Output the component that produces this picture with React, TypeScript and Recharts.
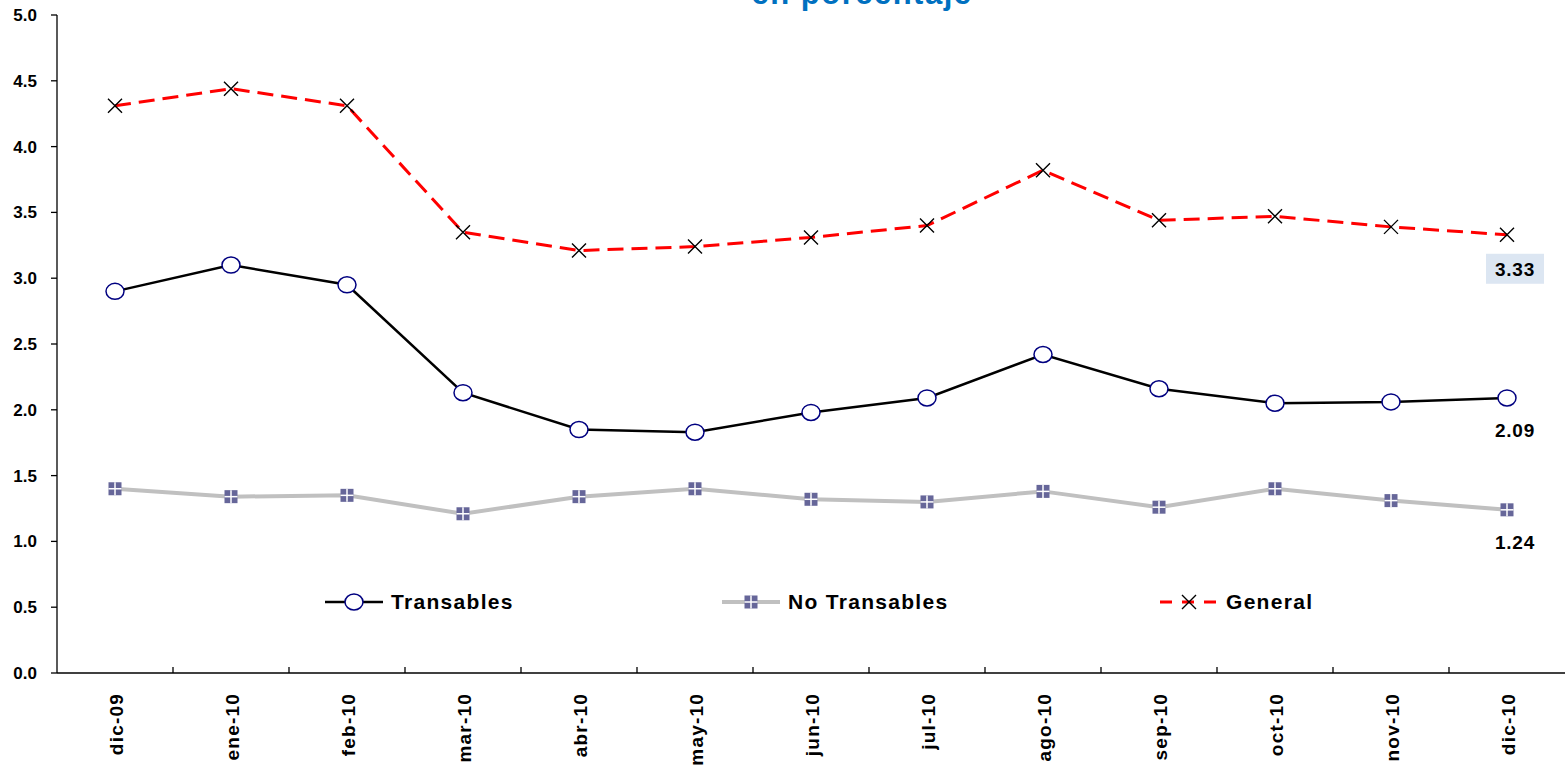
import { LineChart, Line, XAxis, YAxis, Legend, LabelList } from 'recharts';

const months = ['dic-09', 'ene-10', 'feb-10', 'mar-10', 'abr-10', 'may-10', 'jun-10', 'jul-10', 'ago-10', 'sep-10', 'oct-10', 'nov-10', 'dic-10'];
const transables = [2.9, 3.1, 2.95, 2.13, 1.85, 1.83, 1.98, 2.09, 2.42, 2.16, 2.05, 2.06, 2.09];
const noTransables = [1.4, 1.34, 1.35, 1.21, 1.34, 1.4, 1.32, 1.3, 1.38, 1.26, 1.4, 1.31, 1.24];
const general = [4.31, 4.44, 4.31, 3.35, 3.21, 3.24, 3.31, 3.4, 3.82, 3.44, 3.47, 3.39, 3.33];
const yTicks = [0, 0.5, 1, 1.5, 2, 2.5, 3, 3.5, 4, 4.5, 5];

const data = months.map((m, i) => ({
  month: m,
  transables: transables[i],
  noTransables: noTransables[i],
  general: general[i],
}));

const FONT = '"Liberation Sans", Arial, sans-serif';
const last = months.length - 1;

const Ring = ({ cx, cy }: any) => (
  <ellipse cx={cx} cy={cy} rx={9} ry={8} fill="#fff" stroke="#000080" strokeWidth={1.5} />
);

const Block = ({ cx, cy }: any) => (
  <g>
    <rect x={cx - 6.5} y={cy - 6.5} width={13} height={13} fill="#666699" />
    <line x1={cx} x2={cx} y1={cy - 6.5} y2={cy + 6.5} stroke="#fff" strokeWidth={1.5} />
    <line x1={cx - 6.5} x2={cx + 6.5} y1={cy} y2={cy} stroke="#fff" strokeWidth={1.5} />
  </g>
);

const Cross = ({ cx, cy }: any) => (
  <path
    d={`M${cx - 7},${cy - 7}L${cx + 7},${cy + 7}M${cx + 7},${cy - 7}L${cx - 7},${cy + 7}`}
    stroke="#000"
    strokeWidth={1.4}
    fill="none"
  />
);

const MonthTick = (props: any) => {
  const { x, y, payload } = props;
  const half = payload.offset ?? 0;
  return (
    <g>
      {payload.index < last && (
        <line x1={x + half} x2={x + half} y1={y} y2={y - 6} stroke="#000" strokeWidth={1.3} />
      )}
      <text
        transform={`translate(${x + 8},${y + 20}) rotate(-90)`}
        textAnchor="end"
        fontFamily={FONT}
        fontWeight="bold"
        fontSize={19}
        letterSpacing={1.2}
        fill="#000"
      >
        {payload.value}
      </text>
    </g>
  );
};

const legendItems: Record<string, { left: number; stroke: string; width: number; dash?: string; Mark: any }> = {
  Transables: { left: 325, stroke: '#000', width: 2.5, Mark: Ring },
  'No Transables': { left: 722, stroke: '#c0c0c0', width: 4, Mark: Block },
  General: { left: 1160, stroke: '#ff0000', width: 3, dash: '12 10', Mark: Cross },
};

const renderLegend = (props: any) => (
  <div style={{ position: 'relative', height: 25 }}>
    {(props.payload || []).map((entry: any) => {
      const it = legendItems[entry.value];
      if (!it) return null;
      const { Mark } = it;
      return (
        <div
          key={entry.value}
          style={{ position: 'absolute', left: it.left, top: 0, height: 25, display: 'flex', alignItems: 'center' }}
        >
          <svg width={58} height={22}>
            <line x1={0} x2={58} y1={11} y2={11} stroke={it.stroke} strokeWidth={it.width} strokeDasharray={it.dash} />
            <Mark cx={29} cy={11} />
          </svg>
          <span
            style={{ marginLeft: 8, fontFamily: FONT, fontWeight: 'bold', fontSize: 21, letterSpacing: 1.3, color: '#000' }}
          >
            {entry.value}
          </span>
        </div>
      );
    })}
  </div>
);

const EndLabel = ({ dy, box }: { dy: number; box?: boolean }) => (props: any) => {
  const { x, y, value, index } = props;
  if (index !== last) return null;
  return (
    <g>
      {box && <rect x={x - 21} y={y + 19} width={58} height={30} fill="#dce6f2" />}
      <text
        x={x + 8}
        y={y + dy}
        textAnchor="middle"
        dominantBaseline="central"
        fontFamily={FONT}
        fontWeight="bold"
        fontSize={19}
        letterSpacing={0.8}
        fill="#000"
      >
        {Number(value).toFixed(2)}
      </text>
    </g>
  );
};

export default function App() {
  return (
    <div style={{ position: 'absolute', left: 0, top: 0, background: '#fff' }}>
      <LineChart width={1565} height={775} data={data} margin={{ top: 15, right: 0, bottom: 0, left: 0 }}>
        <text
          x={862}
          y={4}
          textAnchor="middle"
          fontFamily={FONT}
          fontWeight="bold"
          fontSize={31}
          letterSpacing={1.5}
          fill="#0070c0"
        >
          en porcentaje
        </text>
        <XAxis
          dataKey="month"
          scale="band"
          interval={0}
          height={102}
          tickSize={0}
          tickMargin={0}
          tickLine={false}
          axisLine={{ stroke: '#000', strokeWidth: 1.3 }}
          tick={<MonthTick />}
        />
        <YAxis
          domain={[0, 5]}
          ticks={yTicks}
          width={57}
          tickSize={6}
          tickMargin={14}
          tickFormatter={(v: number) => v.toFixed(1)}
          axisLine={{ stroke: '#000', strokeWidth: 1.3 }}
          tickLine={{ stroke: '#000', strokeWidth: 1.3 }}
          tick={{ fill: '#000', fontFamily: FONT, fontWeight: 'bold', fontSize: 17 }}
        />
        <Legend
          layout="horizontal"
          verticalAlign="middle"
          align="center"
          content={renderLegend}
          wrapperStyle={{ position: 'absolute', left: 0, top: 589, width: 1565, height: 25 }}
        />
        <Line
          dataKey="transables"
          name="Transables"
          stroke="#000"
          strokeWidth={2.5}
          isAnimationActive={false}
          dot={(p: any) => <Ring key={`t${p.index}`} cx={p.cx} cy={p.cy} />}
          activeDot={false}
        >
          <LabelList dataKey="transables" content={EndLabel({ dy: 33 })} />
        </Line>
        <Line
          dataKey="noTransables"
          name="No Transables"
          stroke="#c0c0c0"
          strokeWidth={4}
          isAnimationActive={false}
          dot={(p: any) => <Block key={`n${p.index}`} cx={p.cx} cy={p.cy} />}
          activeDot={false}
        >
          <LabelList dataKey="noTransables" content={EndLabel({ dy: 33 })} />
        </Line>
        <Line
          dataKey="general"
          name="General"
          stroke="#ff0000"
          strokeWidth={3}
          strokeDasharray="16 8"
          isAnimationActive={false}
          dot={(p: any) => <Cross key={`g${p.index}`} cx={p.cx} cy={p.cy} />}
          activeDot={false}
        >
          <LabelList dataKey="general" content={EndLabel({ dy: 35, box: true })} />
        </Line>
      </LineChart>
    </div>
  );
}
